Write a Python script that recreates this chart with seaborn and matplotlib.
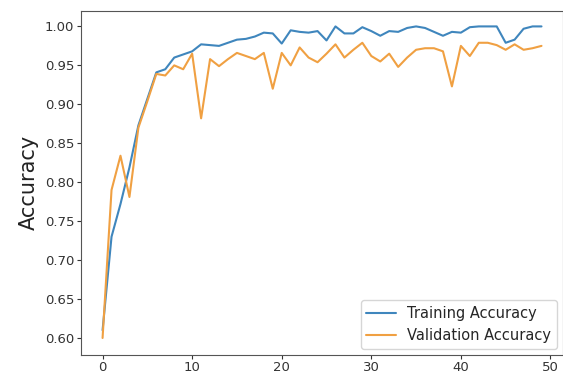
import numpy as np
import pandas as pd
import matplotlib
matplotlib.use("Agg")
import matplotlib.pyplot as plt
import seaborn as sns

epochs = list(range(50))

train_acc = [0.61, 0.73, 0.772, 0.819, 0.873, 0.907, 0.941, 0.945, 0.96, 0.964,
             0.968, 0.977, 0.976, 0.975, 0.979, 0.983, 0.984, 0.987, 0.992, 0.991,
             0.978, 0.995, 0.993, 0.992, 0.994, 0.982, 1.0, 0.991, 0.991, 0.999,
             0.994, 0.988, 0.994, 0.993, 0.998, 1.0, 0.998, 0.993, 0.988, 0.993,
             0.992, 0.999, 1.0, 1.0, 1.0, 0.979, 0.983, 0.997, 1.0, 1.0]

val_acc = [0.60, 0.79, 0.834, 0.781, 0.87, 0.904, 0.939, 0.937, 0.95, 0.945,
           0.965, 0.882, 0.958, 0.949, 0.958, 0.966, 0.962, 0.958, 0.966, 0.92,
           0.966, 0.95, 0.973, 0.96, 0.954, 0.965, 0.977, 0.96, 0.97, 0.979,
           0.962, 0.955, 0.965, 0.948, 0.96, 0.97, 0.972, 0.972, 0.968, 0.923,
           0.975, 0.962, 0.979, 0.979, 0.976, 0.97, 0.977, 0.97, 0.972, 0.975]

series_names = ["Training Accuracy", "Validation Accuracy"]

df = pd.DataFrame({
    "epoch": epochs * 2,
    "acc": train_acc + val_acc,
    "series": [series_names[0]] * len(epochs) + [series_names[1]] * len(epochs),
})

sns.set_style("ticks")
plt.rcParams["font.family"] = ["DejaVu Sans"]

fig = plt.figure(figsize=(5.63, 3.79), dpi=100)
ax = fig.add_axes([0.144, 0.064, 0.856, 0.907])

sns.lineplot(data=df, x="epoch", y="acc", hue="series",
             palette=["#3f86bd", "#f0a042"], linewidth=1.5, ax=ax)

ax.set_xlim(-2.4, 51.4)
ax.set_ylim(0.5785, 1.0198)
ax.set_xticks([0, 10, 20, 30, 40, 50])
ax.set_yticks([0.60, 0.65, 0.70, 0.75, 0.80, 0.85, 0.90, 0.95, 1.00])
ax.yaxis.set_major_formatter(matplotlib.ticker.FormatStrFormatter("%.2f"))
ax.tick_params(labelsize=9.5, colors="#333333", length=3, pad=2)
ax.tick_params(axis="x", pad=1.5)
ax.set_xlabel("")
ax.set_ylabel("Accuracy", fontsize=15, color="#222222")
for s in ax.spines.values():
    s.set_color("#555555")
    s.set_visible(True)

leg = ax.legend(loc="lower right", fontsize=10.5, frameon=True, borderaxespad=0.4)
leg.get_frame().set_edgecolor("#cccccc")

fig.savefig("out.png", dpi=100)
